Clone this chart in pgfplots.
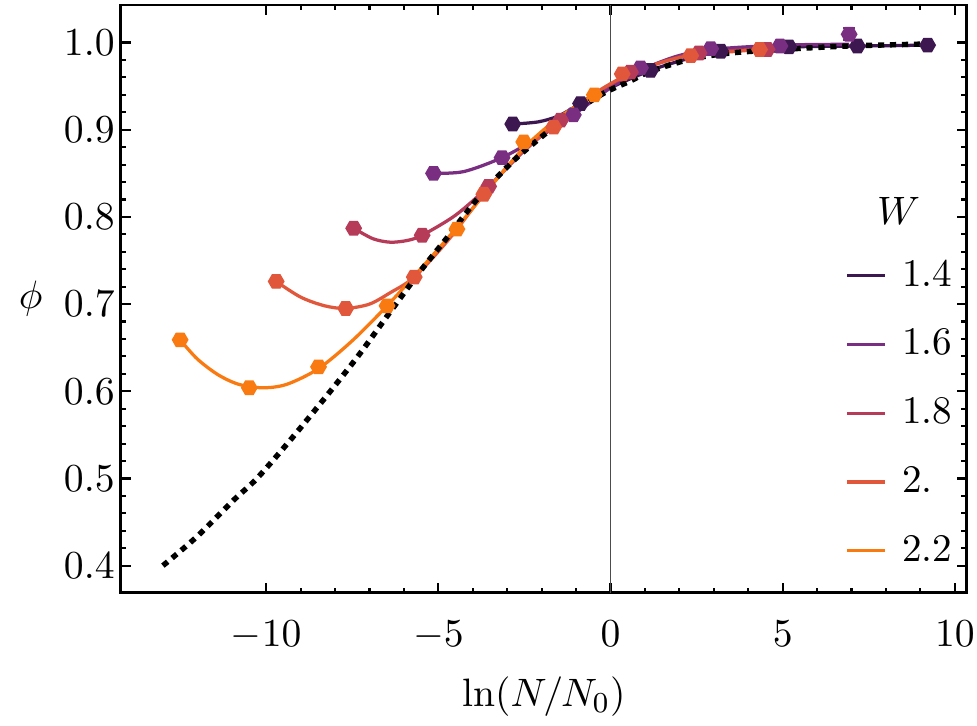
\documentclass[border=0pt]{standalone}
\usepackage{pgfplots}
\pgfplotsset{compat=1.18}

\definecolor{wA}{rgb}{0.24,0.09,0.31}
\definecolor{wB}{rgb}{0.48,0.18,0.51}
\definecolor{wC}{rgb}{0.71,0.23,0.35}
\definecolor{wD}{rgb}{0.88,0.34,0.23}
\definecolor{wE}{rgb}{0.98,0.48,0.07}

% filled hexagon mark
\pgfdeclareplotmark{hex*}{%
  \pgfpathmoveto{\pgfpointpolar{0}{\pgfplotmarksize}}%
  \pgfpathlineto{\pgfpointpolar{60}{\pgfplotmarksize}}%
  \pgfpathlineto{\pgfpointpolar{120}{\pgfplotmarksize}}%
  \pgfpathlineto{\pgfpointpolar{180}{\pgfplotmarksize}}%
  \pgfpathlineto{\pgfpointpolar{240}{\pgfplotmarksize}}%
  \pgfpathlineto{\pgfpointpolar{300}{\pgfplotmarksize}}%
  \pgfpathclose\pgfusepathqfillstroke}

% data points: x phi err
\pgfplotstableread{
x y e
-2.84 0.9065 0.002
-0.87 0.930 0.002
1.16 0.968 0.002
3.20 0.990 0.002
5.18 0.995 0.002
7.17 0.996 0.002
9.21 0.997 0.002
}\ptsA
\pgfplotstableread{
x y e
-5.14 0.850 0.002
-3.15 0.868 0.002
-1.08 0.917 0.002
0.87 0.971 0.002
2.91 0.993 0.002
4.92 0.996 0.002
6.93 1.0095 0.007
}\ptsB
\pgfplotstableread{
x y e
-7.46 0.787 0.002
-5.47 0.779 0.002
-3.54 0.835 0.002
-1.45 0.911 0.002
0.58 0.966 0.002
2.57 0.988 0.002
4.55 0.992 0.002
}\ptsC
\pgfplotstableread{
x y e
-9.71 0.726 0.002
-7.69 0.695 0.002
-5.70 0.731 0.002
-3.68 0.826 0.002
-1.65 0.903 0.002
0.34 0.964 0.002
2.33 0.985 0.002
4.33 0.992 0.002
}\ptsD
\pgfplotstableread{
x y e
-12.50 0.659 0.002
-10.49 0.604 0.002
-8.48 0.628 0.002
-6.49 0.698 0.002
-4.46 0.786 0.002
-2.52 0.886 0.002
-0.47 0.940 0.002
}\ptsE

\begin{document}
\begin{tikzpicture}[font=\fontsize{10.8}{13}\selectfont]
\begin{axis}[
    name=ax,
    scale only axis,
    width=233.7pt, height=162.4pt,
    xmin=-14.22, xmax=10.35,
    ymin=0.3687, ymax=1.043,
    xtick={-10,-5,0,5,10},
    ytick={0.4,0.5,0.6,0.7,0.8,0.9,1.0},
    minor x tick num=4,
    minor y tick num=4,
    tick pos=both,
    tick align=inside,
    major tick length=2.8pt,
    minor tick length=1.5pt,
    every tick/.style={black, line width=0.6pt},
    axis line style={line width=0.8pt},
    tick label style={font=\fontsize{10.8}{13}\selectfont},
    yticklabel style={/pgf/number format/.cd, fixed, fixed zerofill, precision=1},
    xticklabel shift=4.2pt,
    yticklabel shift=-1.8pt,
    legend style={draw=none, fill=none, at={(rel axis cs:1.005,0.019)}, anchor=south east,
        row sep=6.3pt, font=\fontsize{10.8}{13}\selectfont,
        /tikz/every odd column/.append style={column sep=2.2pt}},
    legend cell align=left,
    legend image code/.code={\draw[#1, line width=0.9pt] (0cm,0cm) -- (0.37cm,0cm);},
]
% reference line at x = 0
\addplot[forget plot, color=black!70, line width=0.3pt] coordinates {(0,0.3687) (0,1.043)};

% fitted curves
\addplot[wA, line width=0.9pt, smooth] coordinates {
(-2.84,0.9065) (-2.1,0.909) (-1.5,0.916) (-0.87,0.930) (0.1,0.950) (1.16,0.968) (2.2,0.981) (3.2,0.990) (4.2,0.993) (5.18,0.995) (7.17,0.996) (9.21,0.997)};
\addlegendentry{1.4}
\addplot[wB, line width=0.9pt, smooth] coordinates {
(-5.14,0.850) (-4.26,0.852) (-3.15,0.868) (-2.1,0.891) (-1.08,0.917) (0,0.948) (0.87,0.968) (1.9,0.984) (2.91,0.992) (4.92,0.997) (6.93,0.998)};
\addlegendentry{1.6}
\addplot[wC, line width=0.9pt, smooth] coordinates {
(-7.46,0.787) (-6.9,0.775) (-6.4,0.771) (-5.9,0.773) (-5.47,0.779) (-4.5,0.802) (-3.54,0.835) (-2.5,0.876) (-1.45,0.911) (-0.4,0.942) (0.58,0.964) (1.6,0.979) (2.57,0.988) (4.55,0.993)};
\addlegendentry{1.8}
\addplot[wD, line width=0.9pt, smooth] coordinates {
(-9.71,0.726) (-9.0,0.708) (-8.3,0.698) (-7.69,0.695) (-7.0,0.700) (-6.4,0.713) (-5.70,0.731) (-4.7,0.774) (-3.68,0.826) (-2.7,0.870) (-1.65,0.905) (-0.6,0.938) (0.34,0.960) (1.3,0.975) (2.33,0.985) (4.33,0.992)};
\addlegendentry{2.}
\addplot[wE, line width=0.9pt, smooth] coordinates {
(-12.50,0.659) (-12.0,0.637) (-11.4,0.619) (-10.8,0.608) (-10.1,0.604) (-9.4,0.608) (-8.48,0.626) (-7.5,0.658) (-6.49,0.698) (-5.5,0.741) (-4.46,0.788) (-3.5,0.834) (-2.52,0.879) (-1.5,0.914) (-0.47,0.940)};
\addlegendentry{2.2}

% data points with error bars
\pgfplotsset{ptstyle/.style={forget plot, only marks, mark=hex*, mark size=2.1pt, color=#1,
    error bars/.cd, y dir=both, y explicit, error bar style={line width=0.6pt},
    error mark options={rotate=90, mark size=1.7pt, line width=0.6pt}}}
\addplot[ptstyle=wA] table[x=x, y=y, y error=e] {\ptsA};
\addplot[ptstyle=wB] table[x=x, y=y, y error=e] {\ptsB};
\addplot[ptstyle=wC] table[x=x, y=y, y error=e] {\ptsC};
\addplot[ptstyle=wD] table[x=x, y=y, y error=e] {\ptsD};
\addplot[ptstyle=wE] table[x=x, y=y, y error=e] {\ptsE};

% limiting curve
\addplot[forget plot, black, line width=1.5pt, dash pattern=on 1.7pt off 1.6pt, smooth] coordinates {
(-13.0,0.400) (-12.02,0.433) (-10.95,0.475) (-10.27,0.500) (-9.30,0.544) (-8.24,0.595) (-7.32,0.641) (-6.40,0.691) (-5.52,0.738) (-4.75,0.776) (-3.88,0.820) (-2.91,0.861) (-2.03,0.891) (-1.16,0.918) (-0.19,0.942) (0.58,0.956) (1.16,0.967) (2.33,0.981) (3.49,0.988) (4.94,0.992) (6.88,0.996) (8.82,0.998) (9.1,0.998)};

\node[anchor=center] at (axis cs:8.37,0.807) {$W$};
\end{axis}
\node[anchor=center] at ([yshift=-28.7pt]ax.south) {$\ln(N/N_0)$};
\node[anchor=center] at ([xshift=-24.9pt]ax.west) {$\phi$};
\pgfresetboundingbox
\path[use as bounding box] ([xshift=-33.4pt,yshift=-36.5pt]ax.south west) rectangle ([xshift=2.8pt,yshift=1.4pt]ax.north east);
\end{tikzpicture}
\end{document}
